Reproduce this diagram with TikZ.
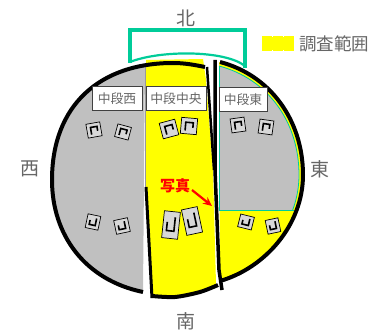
\documentclass[tikz,border=0pt]{standalone}
\usepackage{fontspec}
\usetikzlibrary{arrows.meta}
\setmainfont{Noto Sans CJK JP}
\definecolor{grn}{HTML}{00CC99}
\definecolor{txt}{HTML}{666666}
\definecolor{grayf}{HTML}{C0C0C0}
\definecolor{icon}{HTML}{D8D8D8}
\definecolor{ylw}{HTML}{FFFF00}
\definecolor{rd}{HTML}{FF0000}
\tikzset{
 dir/.style={text=txt,font=\fontsize{19}{19}\selectfont,inner sep=0pt},
 sect/.style={draw=black!75,line width=.8pt,fill=white,text=txt,font=\fontsize{12.8}{13}\selectfont,inner sep=0pt,minimum height=23.5pt},
 thick line/.style={draw=black,line width=4pt},
 icn/.style={draw=black,line width=.7pt,fill=icon},
 glyph/.style={draw=black,line width=1.6pt}
}
\newcommand{\icnbox}[6]{%
 \begin{scope}[shift={(#1,#2)},rotate=#5]
  \draw[icn] (-#3/2,-#4/2) rectangle (#3/2,#4/2);
  \begin{scope}[rotate=#6]
  \draw[glyph] (-#3*.22,#4*.3) -- (-#3*.22,-#4*.22) -- (#3*.25,-#4*.22) -- (#3*.25,#4*.1);
  \end{scope}
 \end{scope}}
\begin{document}
\begin{tikzpicture}[x=1pt,y=-1pt]
\useasboundingbox (0,0) rectangle (370,334);
% yellow centre
\fill[ylw] (146,60) -- (203,59) -- (206,80) -- (213,170) -- (216,284) -- (200,291) -- (175,296) -- (152,296) -- (146,187) -- cycle;
% west gray
\fill[grayf] (145,66) -- (133,68) .. controls (110,72) and (52,105) .. (52,180) .. controls (52,235) and (85,280) .. (143,292) -- cycle;
\draw[black!40,line width=.6pt] (145,66) -- (145,187);
% east
\fill[ylw] (219,62) .. controls (270,75) and (303,120) .. (303,175) .. controls (303,225) and (265,268) .. (220,281) -- cycle;
\begin{scope}
\clip (210,55) rectangle (310,210);
\fill[grayf] (219,66) .. controls (268,79) and (299,122) .. (299,175) .. controls (299,225) and (262,265) .. (220,278) -- cycle;
\draw[grn,line width=.8pt] (219,66) .. controls (268,79) and (299,122) .. (299,175) .. controls (299,225) and (262,265) .. (220,278);
\end{scope}
\draw[grn,line width=.8pt] (219,66) -- (219,210) -- (294,210);
% black outlines
\draw[thick line] (143,292) .. controls (85,280) and (52,235) .. (52,180) .. controls (52,105) and (100,63) .. (173,63) .. controls (185,63) and (195,65) .. (205,67);
\draw[thick line] (220,62) .. controls (270,75) and (303,120) .. (303,175) .. controls (303,225) and (265,268) .. (220,281);
\draw[thick line] plot[smooth] coordinates {(152,296) (175,297) (200,292) (218,285)};
\draw[black,line width=3pt] (146,187) -- (152,298);
\draw[black,line width=2.5pt] (207,67) -- (214,170);
\draw[black,line width=3.5pt] (215,60) -- (215,170) -- (219,270) -- (222,290);
% green box
\draw[grn,line width=3.2pt] (130,63) -- (130,30) -- (245,30) -- (245,68);
\draw[grn,line width=2.2pt] (130,62) .. controls (160,50) and (225,50) .. (245,66);
% icons
\icnbox{94}{130}{14}{14}{10}{0}
\icnbox{123}{132}{14}{13}{-15}{0}
\icnbox{169}{129}{16}{16}{15}{0}
\icnbox{189}{126}{16}{16}{-5}{0}
\icnbox{238}{125}{14}{14}{8}{0}
\icnbox{266}{127}{14}{14}{-8}{0}
\icnbox{93}{222}{13}{14}{-12}{180}
\icnbox{122}{226}{14}{14}{12}{180}
\icnbox{171}{225}{16}{27}{-6}{180}
\icnbox{192}{221}{16}{26}{12}{180}
\icnbox{246}{222}{14}{13}{-14}{180}
\icnbox{273}{226}{13}{14}{12}{180}
% section labels
\node[sect,minimum width=50pt] (w) at (117,98.5) {中段西};
\node[sect,minimum width=60pt] (c) at (176,98.5) {中段中央};
\node[sect,minimum width=48pt] (e) at (243,99.5) {中段東};
% directions
\node[dir] (n) at (186,18) {北};
\node[dir] (s) at (186,321) {南};
\node[dir] (we) at (30,169) {西};
\node[dir] (ea) at (320,169) {東};
% legend
\fill[ylw] (262,37) rectangle (294,50);
\draw[ylw,line width=15pt,dash pattern=on 10pt off 1pt] (262,43.5) -- (294,43.5);
\node[text=txt,font=\fontsize{17.5}{18}\selectfont,inner sep=0pt,anchor=west] (leg) at (299,44) {調査範囲};
% photo
\node[text=rd,font=\bfseries\fontsize{15}{15}\selectfont,inner sep=0pt] (ph) at (175,186) {写真};
\coordinate (pt) at (212,206);
\draw[rd,line width=2.2pt,-{Stealth[length=9pt,width=8pt]}] (192,190) -- (pt);
\end{tikzpicture}
\end{document}
